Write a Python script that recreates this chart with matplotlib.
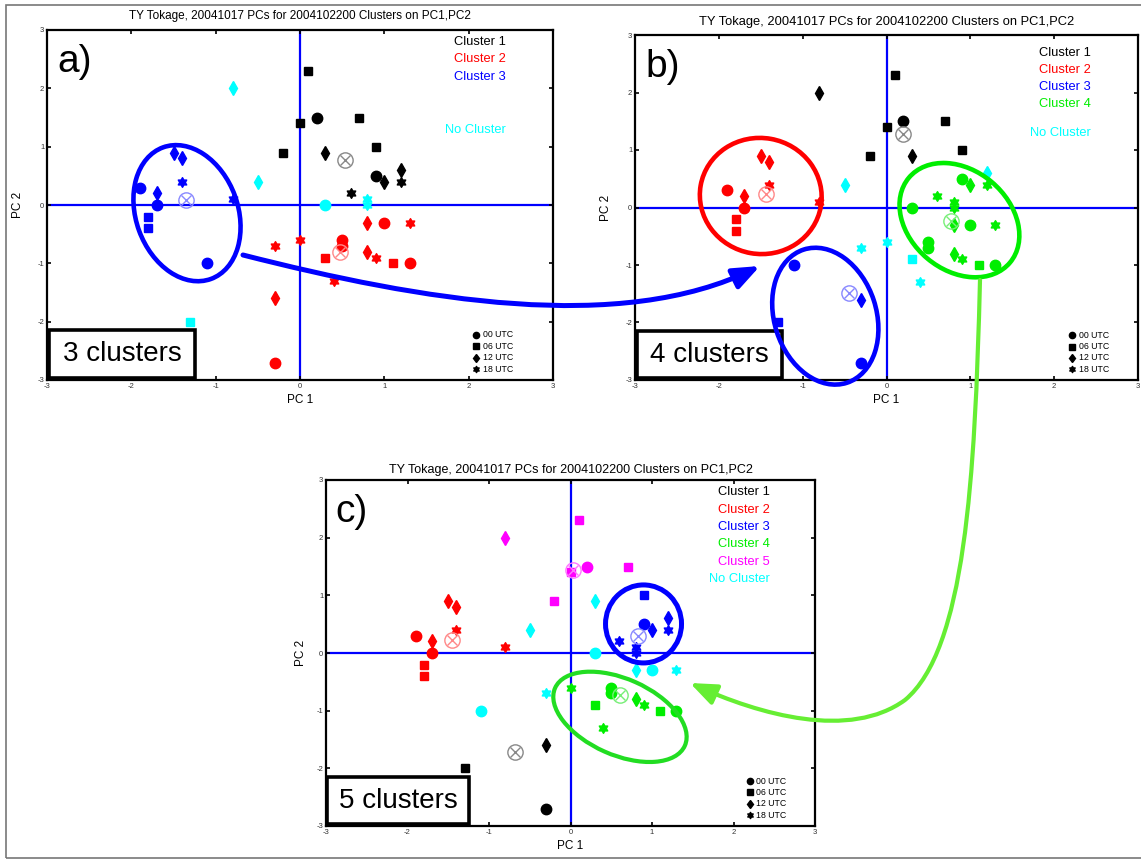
import matplotlib.pyplot as plt
import numpy as np
from matplotlib.patches import Ellipse, Rectangle, FancyArrowPatch
from matplotlib.path import Path
from matplotlib.transforms import ScaledTranslation

plt.rcParams['font.family'] = ['Liberation Sans', 'DejaVu Sans']
plt.rcParams['axes.unicode_minus'] = False

W, H = 1141, 860

# ensemble members: PC1, PC2 and valid time (UTC)
pc1 = [0.1, 0.2, 0.7, 0.0, -0.2, 0.3, 0.9, 0.9, 1.0, 1.2, 1.2, 0.6,
       -0.8, -0.5, 0.3, 0.8, 0.8, -1.3,
       0.8, 1.0, 1.3, 0.0, 0.5, 0.5, -0.3, 0.3, 0.8, 0.9, 1.1, 1.3, 0.4, -0.3, -0.3,
       -1.5, -1.4, -1.4, -1.9, -1.7, -1.7, -1.8, -1.8, -1.1, -0.8]
pc2 = [2.3, 1.5, 1.5, 1.4, 0.9, 0.9, 1.0, 0.5, 0.4, 0.6, 0.4, 0.2,
       2.0, 0.4, 0.0, 0.1, 0.0, -2.0,
       -0.3, -0.3, -0.3, -0.6, -0.6, -0.7, -0.7, -0.9, -0.8, -0.9, -1.0, -1.0, -1.3, -1.6, -2.7,
       0.9, 0.8, 0.4, 0.3, 0.2, 0.0, -0.2, -0.4, -1.0, 0.1]
utc = [6, 0, 6, 6, 6, 12, 6, 0, 12, 12, 18, 18,
       12, 12, 0, 18, 18, 6,
       12, 0, 18, 18, 0, 0, 18, 6, 12, 18, 6, 0, 18, 12, 0,
       12, 12, 18, 0, 12, 0, 6, 6, 0, 18]

# cluster membership for 3, 4 and 5 clusters (0 = no cluster)
clus3 = [1, 1, 1, 1, 1, 1, 1, 1, 1, 1, 1, 1,
         0, 0, 0, 0, 0, 0,
         2, 2, 2, 2, 2, 2, 2, 2, 2, 2, 2, 2, 2, 2, 2,
         3, 3, 3, 3, 3, 3, 3, 3, 3, 3]
clus4 = [1, 1, 1, 1, 1, 1, 1, 4, 4, 0, 4, 4,
         1, 0, 4, 4, 4, 3,
         4, 4, 4, 0, 4, 4, 0, 0, 4, 4, 4, 4, 0, 3, 3,
         2, 2, 2, 2, 2, 2, 2, 2, 3, 2]
clus5 = [5, 5, 5, 5, 5, 0, 3, 3, 3, 3, 3, 3,
         5, 0, 0, 3, 3, 1,
         0, 0, 0, 4, 4, 4, 0, 4, 4, 4, 4, 4, 4, 1, 1,
         2, 2, 2, 2, 2, 2, 2, 2, 0, 2]

# cluster centres
cent3_x, cent3_y = [0.53, 0.47, -1.35], [0.77, -0.80, 0.09]
cent4_x, cent4_y = [0.20, -1.44, -0.45, 0.77], [1.28, 0.23, -1.49, -0.23]
cent5_x, cent5_y = [-0.68, -1.45, 0.83, 0.61, 0.03], [-1.72, 0.22, 0.30, -0.73, 1.44]

title = 'TY Tokage, 20041017 PCs for 2004102200 Clusters on PC1,PC2'
utc_labels = ['00 UTC', '06 UTC', '12 UTC', '18 UTC']

# six-pointed star for the 18 UTC members
ang = np.deg2rad(90 + 30 * np.arange(12))
rad = np.where(np.arange(12) % 2 == 0, 1.0, 0.58)
hexagram = Path(np.column_stack([rad * np.cos(ang), rad * np.sin(ang)]).tolist()
                + [[0, 1]], closed=True)

col = {0: 'cyan', 1: 'black', 2: 'red', 3: 'blue', 4: '#00ee00', 5: 'magenta'}
light = {1: '#888888', 2: '#ff8888', 3: '#8888ff', 4: '#77ee77', 5: '#ff77ff'}
mk = {0: 'o', 6: 's', 12: 'd', 18: hexagram}
ms = {0: 7.5, 6: 5.8, 12: 7.2, 18: 7}

fig = plt.figure(figsize=(W / 100, H / 100), dpi=100)


def px_rect(l, t, r, b):
    return [l / W, 1 - b / H, (r - l) / W, (b - t) / H]


def panel(rect, clus, cx, cy, tag, nlab, top, tfs, tpad, utcx, ylab_pad):
    ax = fig.add_axes(rect)
    ax.set_xlim(-3, 3)
    ax.set_ylim(-3, 3)
    ax.set_xticks(range(-3, 4))
    ax.set_yticks(range(-3, 4))
    ax.tick_params(direction='in', length=3, width=1.2, top=True, right=True,
                   labelsize=5.5, pad=2, labelcolor='#333333')
    for s in ax.spines.values():
        s.set_linewidth(1.6)
    ax.axhline(0, color='blue', lw=1.6, zorder=1)
    ax.axvline(0, color='blue', lw=1.6, zorder=1)
    for x, y, t, c in zip(pc1, pc2, utc, clus):
        ax.plot(x, y, marker=mk[t], ms=ms[t], color=col[c], mec=col[c], ls='none', zorder=3)
    for i, (x, y) in enumerate(zip(cx, cy)):
        ax.plot(x, y, marker='o', ms=11, mfc='none', mec=light[i + 1], mew=1, zorder=4)
        ax.plot(x, y, marker='x', ms=7, color=light[i + 1], mew=1, zorder=4)
    ax.set_title(title, fontsize=tfs, pad=tpad)
    ax.set_xlabel('PC 1', fontsize=8.5, labelpad=3)
    ax.set_ylabel('PC 2', fontsize=8.5, labelpad=ylab_pad)
    # cluster colour key
    for k in range(1, nlab + 1):
        ax.text(0.907, top - 0.05 * (k - 1), 'Cluster %d' % k, color=col[k],
                fontsize=9.3, ha='right', va='center', transform=ax.transAxes)
    ax.text(0.907, 0.715, 'No Cluster', color='cyan', fontsize=9.3,
            ha='right', va='center', transform=ax.transAxes)
    # time-of-day key
    for k, t in enumerate([0, 6, 12, 18]):
        yy = 0.13 - 0.033 * k
        ax.plot(utcx, yy, marker=mk[t], ms=4.5, color='black', transform=ax.transAxes)
        ax.text(utcx + 0.013, yy, utc_labels[k], fontsize=6.3, va='center',
                transform=ax.transAxes)
    ax.text(0.02, 0.96, tag + ')', fontsize=28, va='top', ha='left',
            transform=ax.transAxes)
    box = Rectangle((0.003, 0.005), 0.29, 0.137, transform=ax.transAxes,
                    facecolor='white', edgecolor='black', lw=2.6, zorder=6)
    ax.add_patch(box)
    ax.text(0.148, 0.073, '%d clusters' % nlab, fontsize=20, ha='center',
            va='center', transform=ax.transAxes, zorder=7)
    return ax


ax_a = panel(px_rect(47, 30, 553, 380), clus3, cent3_x, cent3_y, 'a', 3, 0.967, 8.5, 8, 0.848, 10)
ax_b = panel(px_rect(635, 35, 1138, 380), clus4, cent4_x, cent4_y, 'b', 4, 0.949, 9.3, 7, 0.869, 10)
ax_c = panel(px_rect(326, 480, 815, 826), clus5, cent5_x, cent5_y, 'c', 5, 0.964, 9.0, 5, 0.867, 7)


def ring(ax, x, y, w, h, ang, c, lw):
    tr = fig.dpi_scale_trans + ScaledTranslation(x, y, ax.transData)
    e = Ellipse((0, 0), w / 100, h / 100, angle=ang, transform=tr,
                fill=False, edgecolor=c, lw=lw, clip_on=False, zorder=8)
    ax.add_patch(e)


ring(ax_a, -1.34, -0.14, 102, 140, 20, 'blue', 3.3)
ring(ax_b, -1.50, 0.20, 122, 116, -10, 'red', 3.3)
ring(ax_b, -0.73, -1.89, 102, 140, 18, 'blue', 3.3)
ring(ax_b, 0.87, -0.22, 132, 100, -40, '#00ee00', 3.3)
ring(ax_c, 0.896, 0.504, 76, 78, 0, 'blue', 3.6)
ring(ax_c, 0.607, -1.107, 142, 76, -24, '#22dd22', 3.0)


def fpath(pts, codes):
    return Path([(x / W, 1 - y / H) for x, y in pts], codes)


blue_path = fpath([(243, 255), (420, 300), (620, 335), (760, 266)],
                  [Path.MOVETO, Path.CURVE4, Path.CURVE4, Path.CURVE4])
green_path = fpath([(980, 280), (975, 480), (965, 650), (905, 700),
                    (850, 740), (760, 715), (690, 683)],
                   [Path.MOVETO, Path.CURVE4, Path.CURVE4, Path.CURVE4,
                    Path.CURVE4, Path.CURVE4, Path.CURVE4])
for p, c, lw in [(blue_path, 'blue', 3.6), (green_path, '#66ee33', 3.0)]:
    arr = FancyArrowPatch(path=p, arrowstyle='-|>,head_length=0.8,head_width=0.32',
                          mutation_scale=20, color=c, lw=lw,
                          transform=fig.transFigure, zorder=10)
    fig.add_artist(arr)

# thin frame round the whole figure
fig.add_artist(Rectangle((6 / W, 1 - 858 / H), 1.2, 853 / H, transform=fig.transFigure,
                         fill=False, edgecolor='#777777', lw=1.2))

fig.savefig('out.png', dpi=100)
